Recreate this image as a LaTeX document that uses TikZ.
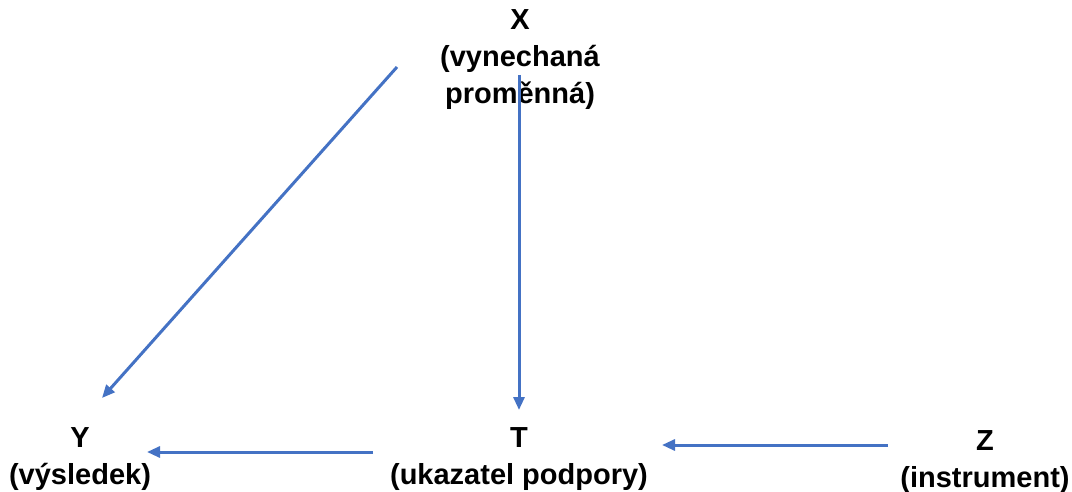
\documentclass[tikz,border=0pt]{standalone}
\usepackage{fontspec}
\setmainfont{Liberation Sans}
\usetikzlibrary{arrows.meta}
\definecolor{arrowblue}{HTML}{4472C4}
\tikzset{
  lbl/.style={align=center, inner sep=0pt, font=\bfseries\fontsize{29}{37}\selectfont},
  conn/.style={draw=arrowblue, line width=3pt, -{Triangle[length=13pt,width=11pt]}}
}
\begin{document}
\begin{tikzpicture}[x=1pt,y=-1pt]
\useasboundingbox (0,0) rectangle (1072,492);
\node[lbl] (X) at (520,60) {X\\(vynechaná\\proměnná)};
\node[lbl] (Y) at (80,459) {Y\\(výsledek)};
\node[lbl] (T) at (519,459) {T\\(ukazatel podpory)};
\node[lbl] (Z) at (985,462) {Z\\(instrument)};
\coordinate (xy1) at (397,67);
\coordinate (xy2) at (102,398);
\coordinate (xt1) at (519,75);
\coordinate (xt2) at (519,410);
\coordinate (ty1) at (373,452);
\coordinate (ty2) at (147,452);
\coordinate (zt1) at (888,445);
\coordinate (zt2) at (662,445);
\draw[conn] (xy1) -- (xy2);
\draw[conn] (xt1) -- (xt2);
\draw[conn] (ty1) -- (ty2);
\draw[conn] (zt1) -- (zt2);
\end{tikzpicture}
\end{document}
